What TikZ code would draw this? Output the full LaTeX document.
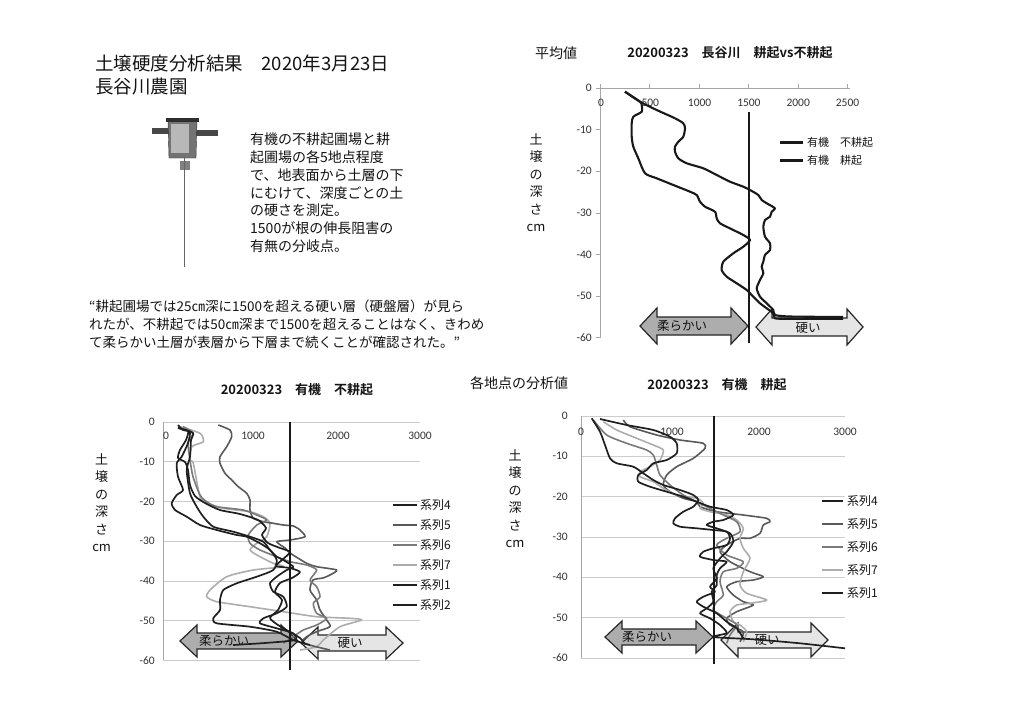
\documentclass[tikz,border=0pt]{standalone}
\usepackage{fontspec}
\setmainfont{Noto Sans CJK JP}[BoldFont={Noto Sans CJK JP Bold}]
\newfontfamily\numfont{Carlito}
\newcommand{\dbarrow}[7]{%
  \draw[#7] (#1,#3) -- ({#1+#4},{#3-#5}) -- ({#1+#4},{#3-#6}) -- ({#2-#4},{#3-#6}) -- ({#2-#4},{#3-#5}) -- (#2,#3) -- ({#2-#4},{#3+#5}) -- ({#2-#4},{#3+#6}) -- ({#1+#4},{#3+#6}) -- ({#1+#4},{#3+#5}) -- cycle;}
\begin{document}
\begin{tikzpicture}[x=1pt,y=-1pt,
  every node/.style={inner sep=0pt, text=black!92},
  gridln/.style={draw=black!20, line width=0.6pt},
  axisln/.style={draw=black!35, line width=0.6pt},
  tlab/.style={font=\numfont\fontsize{11.5}{11.5}\selectfont, text=black!80},
  ylabst/.style={font=\fontsize{13}{17.4}\selectfont, align=center, anchor=north},
  softarrow/.style={draw=black!85, line width=1.2pt, fill=black!32, line join=miter},
  hardarrow/.style={draw=black!85, line width=1.2pt, fill=black!10, line join=miter},
  arrowtxt/.style={font=\fontsize{12.5}{12.5}\selectfont},
  avgc/.style={draw=black!90, line width=2.1pt, line join=round},
  sK/.style={draw=black!88, line width=1.7pt, line join=round},
  sD/.style={draw=black!65, line width=1.6pt, line join=round},
  sM/.style={draw=black!52, line width=1.6pt, line join=round},
  sL/.style={draw=black!32, line width=1.6pt, line join=round},
  bar/.style={draw=black!90, line width=2.6pt},
  legtxt/.style={font=\fontsize{12}{12}\selectfont, anchor=west},
  chtitle/.style={font=\bfseries\fontsize{13}{13}\selectfont},
]
\useasboundingbox (0,0) rectangle (1024,720);
\fill[white] (0,0) rectangle (1024,720);

% ---------- header ----------
\node[anchor=west, font=\fontsize{18.5}{22}\selectfont] (title) at (95,63) {土壌硬度分析結果　2020年3月23日};
\node[anchor=west, font=\fontsize{18.5}{22}\selectfont] (farm) at (95,87) {長谷川農園};

% ---------- instrument ----------
\fill[black!72] (152,128) rectangle (170,133.5);
\fill[black!72] (195,130) rectangle (218,135.5);
\draw[black!80, fill=black!55] (168,120) -- (197,120) -- (196,158) -- (169,158) -- cycle;
\fill[black!28] (171,124) rectangle (189,153);
\fill[black!82] (166,118) rectangle (199,122);
\fill[black!50] (180,161) rectangle (190,170);
\draw[black!60, line width=1pt] (184.3,158) -- (184.3,267);

\node[anchor=north west, align=left, font=\fontsize{14}{17.7}\selectfont] (desc) at (250,133) {有機の不耕起圃場と耕\\起圃場の各5地点程度\\で、地表面から土層の下\\にむけて、深度ごとの土\\の硬さを測定。\\1500が根の伸長阻害の\\有無の分岐点。};

\node[anchor=north west, align=left, font=\fontsize{13.5}{18}\selectfont] (quote) at (89,300) {“耕起圃場では25㎝深に1500を超える硬い層（硬盤層）が見ら\\れたが、不耕起では50㎝深まで1500を超えることはなく、きわめ\\て柔らかい土層が表層から下層まで続くことが確認された。”};

% ---------- top chart (average) ----------
\node[font=\fontsize{14}{14}\selectfont] (avglab) at (556,53) {平均値};
\node[chtitle] (t1) at (730,53) {20200323　長谷川　耕起vs不耕起};
\node[ylabst] (y1) at (536,133.5) {土\\壌\\の\\深\\さ\\cm};
\draw[axisln] (600,88) -- (600,338);
\draw[axisln] (600,88) -- (850,88);
\foreach \k/\lab in {0/0,1/-10,2/-20,3/-30,4/-40,5/-50,6/-60}{
  \draw[axisln] (596,{88+41.6*\k}) -- (600,{88+41.6*\k});
  \node[tlab, anchor=east] (ya\k) at (592,{88+41.6*\k}) {\lab};
}
\foreach \k/\lab in {0/0,1/500,2/1000,3/1500,4/2000,5/2500}{
  \draw[axisln] ({600+49.5*\k},84) -- ({600+49.5*\k},88);
  \node[tlab] (xa\k) at ({601+49.3*\k},103) {\lab};
}
\dbarrow{640}{748}{326}{17}{18}{9}{softarrow}
\dbarrow{756}{863}{327}{16}{18}{9}{hardarrow}
\node[arrowtxt] (s1) at (682,326) {柔らかい};
\node[arrowtxt] (h1) at (808,328) {硬い};
\draw[avgc] plot[smooth, tension=0.4] coordinates {(625,91.7) (640,101.7) (656.7,110) (675,118.3) (683.3,123.3) (685,128.3) (683.3,136.7) (678.3,141.7) (675,146.7) (675,151.7) (678.3,158.3) (686.7,163.3) (703.3,168.3) (716.7,175) (730,181.7) (743.3,186.7) (750,190) (758.3,195) (761.7,200) (766.7,203.3) (775,208.3) (771.7,211.7) (770,216.7) (765,220) (763.3,226.7) (765,236.7) (770,243.3) (770,250) (765,255) (763.3,261.7) (761.7,266.7) (763.3,273.3) (760,280) (756.7,288.3) (760,296.7) (766.7,303.3) (773.3,310) (775,315) (790,316.5) (843,317)};
\draw[avgc] plot[smooth, tension=0.4] coordinates {(625,91.7) (640,101.7) (641.7,105) (641.7,111.7) (633.3,116.7) (631.7,123.3) (631.7,136.7) (633.3,146.7) (638.3,158.3) (645,173.3) (656.7,178.3) (673.3,185) (690,191.7) (696.7,195) (700,201.7) (705,206.7) (715,211.7) (716.7,218.3) (720,223.3) (733.3,230) (743.3,235) (750,240) (743.3,246.7) (733.3,253.3) (723.3,261.7) (721.7,270) (726.7,276.7) (736.7,283.3) (746.7,290) (753.3,296.7) (760,303.3) (766.7,308.3) (773.3,313.3) (775,318.3) (790,318.8) (843,318.8)};
\draw[bar] (749,112) -- (749,343);
\draw[avgc] (780,142.5) -- (803,142.5);
\draw[avgc] (780,160.5) -- (803,160.5);
\node[anchor=west, font=\fontsize{11}{11}\selectfont] (lg1) at (807,142.5) {有機　不耕起};
\node[anchor=west, font=\fontsize{11}{11}\selectfont] (lg2) at (807,160.5) {有機　耕起};

% ---------- middle label ----------
\node[font=\fontsize{14}{14}\selectfont] (each) at (519,383) {各地点の分析値};

% ---------- bottom-left chart ----------
\node[chtitle] (t2) at (297,390) {20200323　有機　不耕起};
\node[ylabst] (y2) at (101.7,453.5) {土\\壌\\の\\深\\さ\\cm};
\foreach \k/\lab in {0/0,1/-10,2/-20,3/-30,4/-40,5/-50,6/-60}{
  \draw[gridln] (163,{422+39.7*\k}) -- (420,{422+39.7*\k});
  \node[tlab, anchor=east] (yb\k) at (155,{422+39.7*\k}) {\lab};
}
\draw[axisln] (163,422) -- (163,660);
\foreach \xx/\lab/\i in {166/0/0,253/1000/1,338/2000/2,420/3000/3}{
  \node[tlab] (xb\i) at (\xx,436) {\lab};
}
\dbarrow{180}{298}{641}{17}{16}{8}{softarrow}
\dbarrow{301}{403}{643}{17}{16}{8}{hardarrow}
\node[arrowtxt] (s2) at (224,641) {柔らかい};
\node[arrowtxt] (h2) at (350,643) {硬い};
\draw[sL] plot[smooth, tension=0.4] coordinates {(180,426.7) (200,433.3) (203.3,441.7) (191.7,446.7) (190,460) (193.3,463.3) (200,496.7) (208.3,503.3) (223.3,508.3) (250,511.7) (263.3,516.7) (270,523.3) (266.7,536.7) (256.7,543.3) (250,550) (260,556.7) (273.3,563.3) (283.3,566.7) (253.3,570) (226.7,576.7) (210,590) (206.7,596.7) (216.7,601.7) (250,606.7) (283.3,611.7) (316.7,616.7) (350,618.3) (361.7,620) (340,626.7) (323.3,640) (316.7,646.7) (300,650)};
\draw[sD] plot[smooth, tension=0.4] coordinates {(218.3,425) (230,430) (231.7,436.7) (226.7,446.7) (220,456.7) (220,463.3) (225,473.3) (231.7,480) (238.3,486.7) (246.7,493.3) (250,500) (250,510) (253.3,518.3) (263.3,521.7) (273.3,523.3) (283.3,525) (293.3,526) (300,530) (305,536.7) (290,540) (276.7,541.7) (285,548) (290,553) (306.7,563.3) (316.7,566.7) (336.7,570) (330,575) (323,578) (313,580) (310,590) (316.7,600) (320,610) (326.7,620) (330,626.7) (316.7,631.7) (306.7,636.7) (303,643) (330,650)};
\draw[sM] plot[smooth, tension=0.4] coordinates {(183,426.7) (193,433) (188,443) (190,460) (193,476.7) (200,495) (206.7,501.7) (216.7,506.7) (243.3,510) (256.7,515) (266.7,520) (256.7,525) (248.3,535) (250,543.3) (260,550) (276.7,556.7) (290,561.7) (306.7,565) (316.7,570) (310,580) (316.7,586.7) (320,596.7) (313.3,603.3) (316.7,613.3) (326.7,618.3) (316.7,625) (303.3,630) (293.3,636.7) (283.3,643.3)};
\draw[sK] plot[smooth, tension=0.4] coordinates {(178,425) (183,430) (190,431.7) (188,443) (181.7,456.7) (176.7,463.3) (178,476.7) (183,490) (176.7,495) (171.7,503.3) (175,510) (186.7,516.7) (200,525) (216.7,530) (236.7,535) (246.7,536.7) (260,543.3) (270,550) (276.7,560) (273.3,570) (256.7,576.7) (236.7,583.3) (223.3,590) (220,600) (220,610) (213.3,618.3) (216.7,623.3) (250,626.7) (276.7,631.7) (293.3,640) (310,645)};
\draw[sK] plot[smooth, tension=0.4] coordinates {(178,428) (193,433) (191,440) (190,456.7) (186.7,470) (190,493.3) (196.7,506.7) (203.3,516.7) (213.3,526.7) (233.3,531.7) (250,536.7) (263.3,541.7) (270,550) (276.7,556.7) (283.3,560) (293.3,566.7) (286.7,570) (276.7,576.7) (270,583.3) (273.3,591.7) (283.3,596.7) (286.7,606.7) (276.7,613.3) (263.3,618.3) (260,623.3) (276.7,628.3) (293.3,633.3) (295,640) (265,643) (233,645)};
\draw[sK] plot[smooth, tension=0.4] coordinates {(178,428) (188,431) (186,440) (180,450) (178,458) (185,462) (188,470) (190,485) (195,496) (205,503) (220,510) (240,514) (258,520) (266,528) (262,535) (268,543) (280,548) (290,552) (282,560) (276,566) (290,568) (300,572) (292,578) (280,583) (275,592) (282,600) (278,610) (270,618) (278,625) (290,632) (300,638) (305,644)};
\draw[bar] (290,422) -- (290,670);
\foreach \k/\lab/\st in {0/4/sK,1/5/sD,2/6/sM,3/7/sL,4/1/sK,5/2/sK}{
  \draw[\st] (393,{505+20*\k}) -- (417,{505+20*\k});
  \node[legtxt] (lb\k) at (420,{505+20*\k}) {系列\lab};
}

% ---------- bottom-right chart ----------
\node[chtitle] (t3) at (717,385) {20200323　有機　耕起};
\node[ylabst] (y3) at (515,449.5) {土\\壌\\の\\深\\さ\\cm};
\foreach \k/\lab in {0/0,1/-10,2/-20,3/-30,4/-40,5/-50,6/-60}{
  \draw[gridln] (581,{416+40.3*\k}) -- (845,{416+40.3*\k});
  \node[tlab, anchor=east] (yc\k) at (568,{416+40.3*\k}) {\lab};
}
\draw[axisln] (581,416) -- (581,658);
\foreach \xx/\lab/\i in {581/0/0,672/1000/1,759/2000/2,845/3000/3}{
  \node[tlab] (xc\i) at (\xx,432) {\lab};
}
\dbarrow{605}{713}{637}{17}{16}{8}{softarrow}
\dbarrow{721}{828}{640}{17}{17}{8}{hardarrow}
\node[arrowtxt] (s3) at (647,637) {柔らかい};
\node[arrowtxt] (h3) at (767,640) {硬い};
\draw[sD] plot[smooth, tension=0.4] coordinates {(623.3,420) (630,426.7) (656.7,435) (680,440) (703.3,443.3) (705,448.3) (693.3,458.3) (676.7,466.7) (666.7,475) (663.3,485) (670,491.7) (683.3,498.3) (696.7,501.7) (700,506.7) (716.7,511.7) (743.3,515) (766.7,518.3) (770,521.7) (763.3,525) (760,533.3) (750,538.3) (740,538.3) (726.7,545) (720,551.7) (730,561.7) (750,571.7) (763.3,576.7) (753.3,580) (736.7,581.7) (726.7,586.7) (733.3,595) (743.3,601.7) (753.3,605) (736.7,611.7) (726.7,618.3) (730,625) (743.3,631.7) (740,641.7)};
\draw[sL] plot[smooth, tension=0.4] coordinates {(603.3,421.7) (616.7,430) (636.7,438.3) (653.3,445) (663.3,450) (660,460) (650,466.7) (640,471.7) (640,476.7) (653.3,481.7) (663.3,488.3) (676.7,495) (696.7,498.3) (703.3,503.3) (700,508.3) (710,511.7) (726.7,515) (736.7,520) (743.3,528.3) (740,538.3) (743.3,548.3) (750,558.3) (743.3,571.7) (740,585) (746.7,593.3) (766.7,600) (750,603.3) (736.7,605) (730,611.7) (733.3,621.7) (740,625) (746.7,631.7) (743.3,641.7)};
\draw[sM] plot[smooth, tension=0.4] coordinates {(593.3,420) (606.7,435) (626.7,443.3) (646.7,450) (653.3,455) (656.7,465) (660,475) (670,485) (683.3,495) (696.7,501.7) (710,508.3) (723.3,515) (736.7,521.7) (740,531.7) (726.7,538.3) (716.7,545) (726.7,555) (743.3,561.7) (736.7,568.3) (723.3,571.7) (720,581.7) (723.3,595) (716.7,601.7) (713.3,610) (726.7,618.3) (736.7,625) (730,635) (726.7,643.3)};
\draw[sK] plot[smooth, tension=0.4] coordinates {(591.7,418.3) (600,431.7) (605,445) (610,458.3) (616.7,463.3) (633.3,466.7) (643.3,473.3) (653.3,480) (663.3,485) (680,490) (693.3,495) (698.3,500) (693.3,506.7) (683.3,511.7) (675,518.3) (673.3,523.3) (680,526.7) (696.7,528.3) (713.3,530) (726.7,531.7) (730,538.3) (726.7,545) (713.3,548.3) (703.3,551.7) (700,556.7) (713.3,560) (726.7,561.7) (720,568.3) (716.7,575) (716.7,585) (711.7,591.7) (713.3,601.7) (706.7,608.3) (700,613.3) (710,618.3) (720,625) (726.7,633) (713,637) (753.3,639.3) (800,643.3) (845,648.3)};
\draw[sK] plot[smooth, tension=0.4] coordinates {(600,419) (626.7,425) (653.3,430) (670,436.7) (676.7,443.3) (676.7,453.3) (666.7,460) (653.3,463.3) (646.7,470) (638.3,475) (638.3,481.7) (650,486.7) (666.7,491.7) (683.3,496.7) (696.7,501.7) (710,506.7) (726.7,510) (733.3,515) (723.3,520) (713.3,521.7) (706.7,525) (716.7,528.3) (730,533.3) (733.3,541.7) (726.7,551.7) (720,558.3) (713.3,568.3) (716.7,578.3) (710,586.7) (715,591.7) (703.3,596.7) (696.7,601.7) (703.3,606.7) (716.7,613.3) (726.7,621.7) (736.7,628.3) (743.3,638.3)};
\draw[bar] (714,416) -- (714,664);
\foreach \k/\lab/\st in {0/4/sK,1/5/sD,2/6/sM,3/7/sL,4/1/sK}{
  \draw[\st] (822,{501+23*\k}) -- (843,{501+23*\k});
  \node[legtxt] (lc\k) at (847,{501+23*\k}) {系列\lab};
}
\end{tikzpicture}
\end{document}
